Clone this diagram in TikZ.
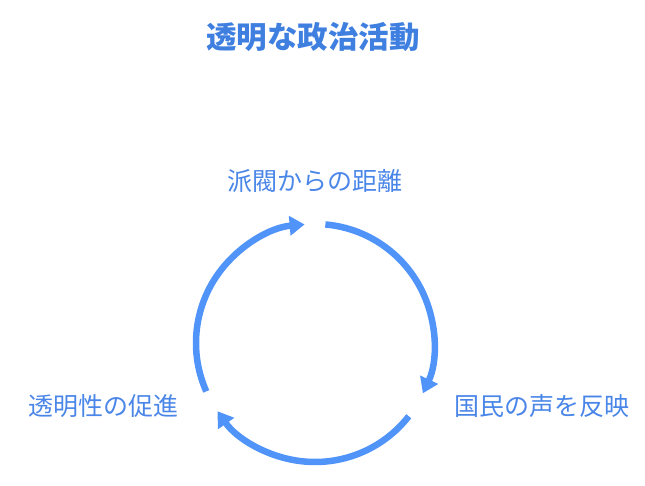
\documentclass[tikz,border=0pt]{standalone}
\usepackage{fontspec}
\newfontfamily\cjk{Noto Sans CJK JP}
\usetikzlibrary{arrows.meta}
\definecolor{arccol}{HTML}{5094FA}
\definecolor{lblcol}{HTML}{4A86E8}
\definecolor{ttlcol}{HTML}{3E7FE0}
\tikzset{
  cyclearc/.style={draw=arccol, line width=6.5pt, -{Triangle[length=15pt,width=19pt]}},
  lbl/.style={text=lblcol, font=\cjk\fontsize{25}{29}\selectfont, inner sep=0pt},
  ttl/.style={text=ttlcol, font=\cjk\bfseries\fontsize{30.5}{35}\selectfont, inner sep=0pt}
}
\begin{document}
\begin{tikzpicture}[x=1pt,y=1pt]
\useasboundingbox (0,0) rectangle (645,-486);
\node[ttl] (title) at (313,-37) {透明な政治活動};
\coordinate (c) at (315,-343);
\node[lbl] (top) at (315,-181) {派閥からの距離};
\node[lbl] (right) at (542,-406) {国民の声を反映};
\node[lbl] (left) at (103,-406) {透明性の促進};
\draw[cyclearc] ([shift={(c)}]204:119) arc[start angle=204, end angle=95, radius=119];
\draw[cyclearc] ([shift={(c)}]85:119) arc[start angle=85, end angle=-25, radius=119];
\draw[cyclearc] ([shift={(c)}]-38:119) arc[start angle=-38, end angle=-145, radius=119];
\end{tikzpicture}
\end{document}
